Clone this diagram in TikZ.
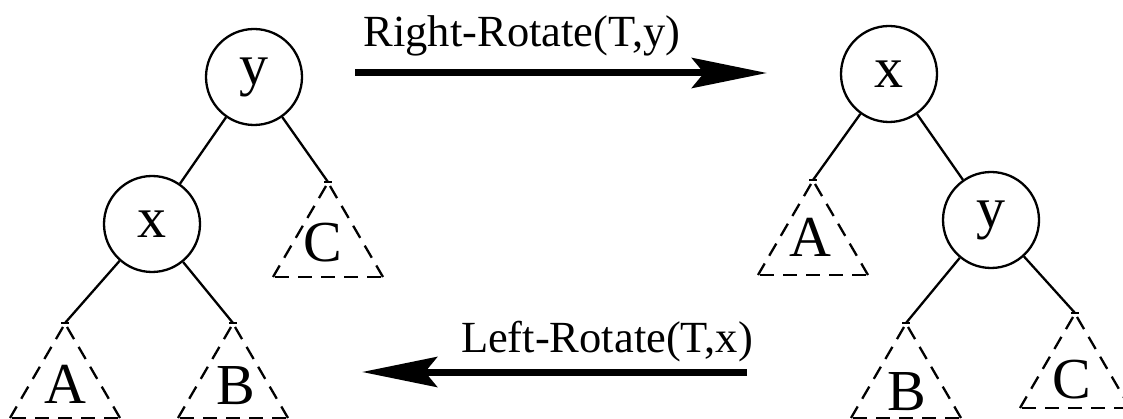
\documentclass[tikz,border=0pt]{standalone}
\usepackage{fontspec}
\setmainfont{Liberation Serif}
\usetikzlibrary{arrows.meta}
\newcommand\subtreeat[1]{%
  \begin{scope}[shift={(#1)}]
    \draw[subdash] (-2,4) -- (-55,95) (2,4) -- (55,95);
    \draw[subdash] (-53,95) -- (58,95);
    \draw[treeline] (-4,0) -- (4,0);
  \end{scope}}
\begin{document}
\begin{tikzpicture}[x=1pt,y=-1pt,
  treeline/.style={line width=2.3pt},
  keynode/.style={circle,draw,line width=2.3pt,minimum size=96pt,inner sep=0pt,font=\fontsize{58}{60}\selectfont},
  sublabel/.style={inner sep=0pt,font=\fontsize{58}{60}\selectfont},
  subdash/.style={line width=2.3pt,dash pattern=on 14pt off 9pt},
  oplabel/.style={inner sep=0pt,anchor=base,font=\fontsize{44.5}{50}\selectfont},
  oparrow/.style={line width=7pt,-{Stealth[length=75pt,width=30pt,inset=12pt]}}]
\useasboundingbox (0,0) rectangle (1123,419);
% left tree
\node[keynode] (Ly) at (254,77) {y};
\node[keynode] (Lx) at (152,224) {x};
\coordinate (LAa) at (65,323);
\coordinate (LBa) at (233,323);
\coordinate (LCa) at (328,182);
\draw[treeline] (Ly) -- (Lx);
\draw[treeline] (Ly) -- (LCa);
\draw[treeline] (Lx) -- (LAa);
\draw[treeline] (Lx) -- (LBa);
\subtreeat{LAa}
\subtreeat{LBa}
\subtreeat{LCa}
\node[sublabel] (LA) at (65,384) {A};
\node[sublabel] (LB) at (236,386) {B};
\node[sublabel] (LC) at (323,243) {C};
% right tree
\node[keynode] (Rx) at (889,74) {x};
\node[keynode] (Ry) at (991,220) {y};
\coordinate (RAa) at (813,180);
\coordinate (RBa) at (906,323);
\coordinate (RCa) at (1075,313);
\draw[treeline] (Rx) -- (RAa);
\draw[treeline] (Rx) -- (Ry);
\draw[treeline] (Ry) -- (RBa);
\draw[treeline] (Ry) -- (RCa);
\subtreeat{RAa}
\subtreeat{RBa}
\subtreeat{RCa}
\node[sublabel] (RA) at (810,237) {A};
\node[sublabel] (RB) at (907,392) {B};
\node[sublabel] (RC) at (1072,380) {C};
% operations
\coordinate (r0) at (355,73);
\coordinate (r1) at (767,73);
\draw[oparrow] (r0) -- (r1);
\node[oplabel] (rl) at (522,47) {Right-Rotate(T,y)};
\coordinate (l0) at (747,372);
\coordinate (l1) at (362,372);
\draw[oparrow] (l0) -- (l1);
\node[oplabel] (ll) at (607,352) {Left-Rotate(T,x)};
\end{tikzpicture}
\end{document}
